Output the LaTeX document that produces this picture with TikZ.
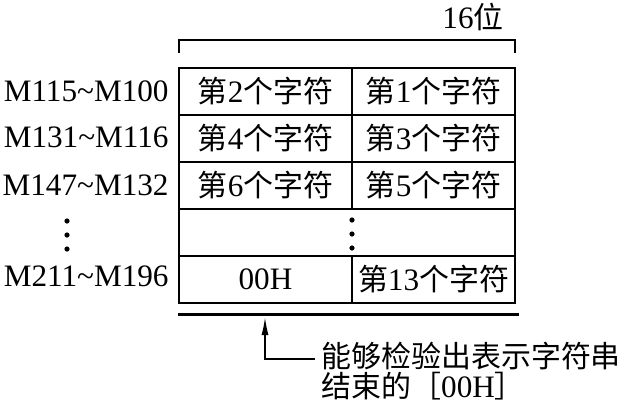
\documentclass[tikz,border=0pt]{standalone}
\usepackage{fontspec}
\setmainfont{Liberation Serif}
\newfontfamily\cjk[Scale=0.96]{Noto Sans CJK SC}
\usepackage{tikz}
\usetikzlibrary{arrows.meta, positioning, calc}

\newcommand{\zi}[1]{{\cjk #1}}

\begin{document}
\begin{tikzpicture}[
    x=0.5pt, y=-0.5pt,
    every node/.style={font=\fontsize{15.6}{18}\selectfont, inner sep=0pt},
    lcell/.style={draw, line width=1pt, minimum width=86.5pt, minimum height=23.5pt},
    rcell/.style={draw, line width=1pt, minimum width=81.5pt, minimum height=23.5pt},
    addr/.style={anchor=east},
    dot/.style={circle, fill, minimum size=2.6pt},
    arr/.style={line width=0.8pt, -{Latex[length=9pt,width=3.5pt]}}
]
\useasboundingbox (0,0) rectangle (631,403);

% bracket over the word
\coordinate (bl) at (179,53);
\coordinate (br) at (515,53);
\draw[line width=1pt] (bl) -- ++(0,-13) -- ($(br)+(0,-13)$) -- (br);
\node (width) at (473,17) {16\zi{位}};

% the table
\node[lcell] (c2)  at (265.5,91.5)  {\zi{第}2\zi{个字符}};
\node[rcell] (c1)  at (433.5,91.5)  {\zi{第}1\zi{个字符}};
\node[lcell] (c4)  at (265.5,138.5) {\zi{第}4\zi{个字符}};
\node[rcell] (c3)  at (433.5,138.5) {\zi{第}3\zi{个字符}};
\node[lcell] (c6)  at (265.5,185.5) {\zi{第}6\zi{个字符}};
\node[rcell] (c5)  at (433.5,185.5) {\zi{第}5\zi{个字符}};
\node[draw, line width=1pt, minimum width=168pt, minimum height=23.5pt] (gap) at (347,232.5) {};
\node[lcell] (end) at (265.5,279.5) {00H};
\node[rcell] (c13) at (433.5,279.5) {\zi{第}13\zi{个字符}};

\foreach \y in {220,234,248}
    \node[dot] at (352,\y) {};

% addresses
\node[addr] (m100) at (169,91)  {M115\textasciitilde M100};
\node[addr] (m116) at (169,137) {M131\textasciitilde M116};
\node[addr] (m132) at (169,185) {M147\textasciitilde M132};
\foreach \y in {221,235,249}
    \node[dot] at (67,\y) {};
\node[addr] (m196) at (169,276) {M211\textasciitilde M196};

% terminator note
\coordinate (baseL) at (178,314);
\coordinate (baseR) at (519,314);
\draw[line width=1.5pt] (baseL) -- (baseR);
\node[anchor=west] (note1) at (321,356) {\zi{能够检验出表示字符串}};
\node[anchor=north west] (note2) at (321,372) {\zi{结束的［}00H\zi{］}};
\coordinate (hit) at (265,317);
\draw[arr] ($(note1.west)+(-6,3)$) -| (hit);
\end{tikzpicture}
\end{document}
